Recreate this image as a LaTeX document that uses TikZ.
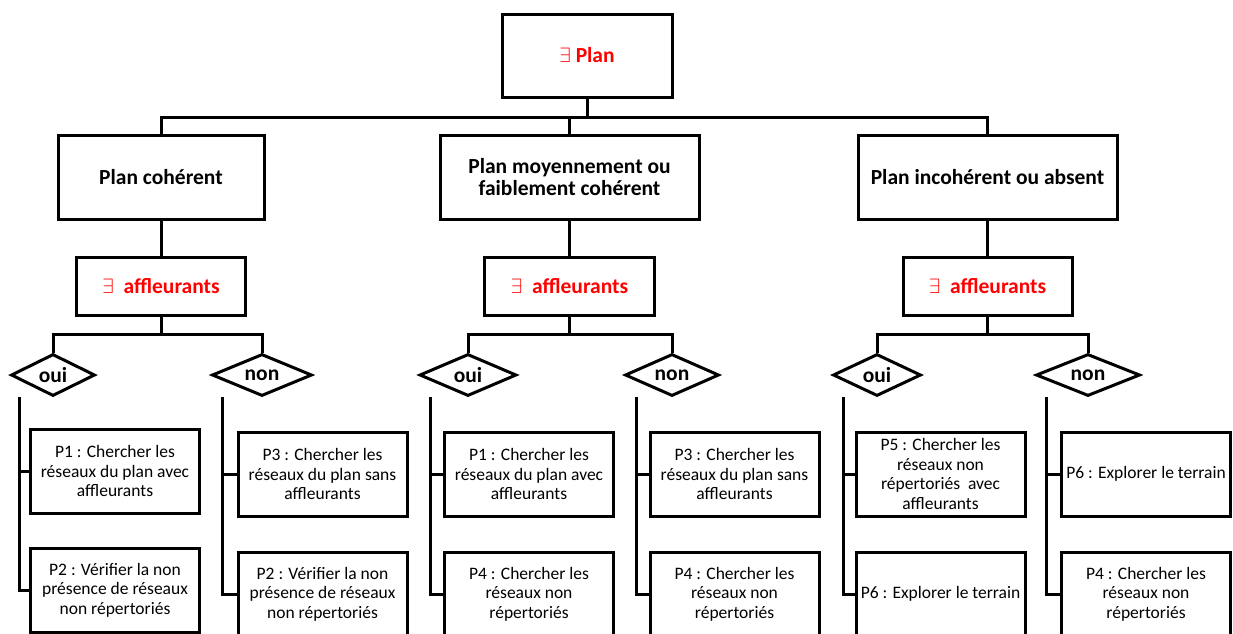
\documentclass[tikz,border=0pt]{standalone}
\usepackage{fontspec}
\setmainfont{Carlito}
\usetikzlibrary{shapes.geometric}

\begin{document}
\begin{tikzpicture}
                [x=1pt, y=-1pt,
                hsty/.style={rectangle, draw, line width=3pt, inner sep=0pt, align=center, font=\bfseries\fontsize{21.5}{22}\selectfont},
                rsty/.style={hsty, text=red},
                dsty/.style={diamond, draw, line width=3pt, inner sep=0pt, shape aspect=2.2, minimum height=42pt, font=\bfseries\fontsize{21.5}{22}\selectfont},
                psty/.style={rectangle, draw, line width=3pt, inner sep=0pt, minimum width=169pt, minimum height=84pt, align=center, font=\fontsize{17.5}{19.5}\selectfont},
                lsty/.style={line width=3pt}]
                \clip (0,0) rectangle (1233,633);
                % nodes
                \node[rsty, minimum width=170pt, minimum height=83pt] (plan) at (587,55.5) {$\exists$~Plan};
                \node[hsty, minimum width=206pt, minimum height=84pt] (c1) at (161,177)   {Plan cohérent};
                \node[hsty, minimum width=259pt, minimum height=84pt] (c2) at (569.5,177) {Plan moyennement ou\\faiblement cohérent};
                \node[hsty, minimum width=259pt, minimum height=84pt] (c3) at (987.5,177) {Plan incohérent ou absent};
                \node[rsty, minimum width=169pt, minimum height=58pt] (a1) at (161,286)   {$\exists$~~affleurants};
                \node[rsty, minimum width=170pt, minimum height=58pt] (a2) at (569.5,286) {$\exists$~~affleurants};
                \node[rsty, minimum width=169pt, minimum height=58pt] (a3) at (987.5,286) {$\exists$~~affleurants};
                \node[dsty, minimum width=84pt]  (o1) at (53,375)   {oui};
                \node[dsty, minimum width=100pt] (n1) at (262,375)  {non};
                \node[dsty, minimum width=97pt]  (o2) at (468,375)  {oui};
                \node[dsty, minimum width=94pt]  (n2) at (672,375)  {non};
                \node[dsty, minimum width=88pt]  (o3) at (877,375)  {oui};
                \node[dsty, minimum width=104pt] (n3) at (1088,375) {non};
                \node[psty] (p1a) at (115,471)   {P1 : Chercher les\\réseaux du plan avec\\affleurants};
                \node[psty] (p1b) at (115,590)   {P2 : Vérifier la non\\présence de réseaux\\non répertoriés};
                \node[psty] (p2a) at (322.5,474) {P3 : Chercher les\\réseaux du plan sans\\affleurants};
                \node[psty] (p2b) at (322.5,594) {P2 : Vérifier la non\\présence de réseaux\\non répertoriés};
                \node[psty] (p3a) at (529,474)   {P1 : Chercher les\\réseaux du plan avec\\affleurants};
                \node[psty] (p3b) at (529,594)   {P4 : Chercher les\\réseaux non\\répertoriés};
                \node[psty] (p4a) at (734.5,474) {P3 : Chercher les\\réseaux du plan sans\\affleurants};
                \node[psty] (p4b) at (734.5,594) {P4 : Chercher les\\réseaux non\\répertoriés};
                \node[psty] (p5a) at (940.5,474) {P5 : Chercher les\\réseaux non\\répertoriés\ \ avec\\affleurants};
                \node[psty] (p5b) at (940.5,594) {P6 : Explorer le terrain};
                \node[psty] (p6a) at (1146,474)  {P6 : Explorer le terrain};
                \node[psty] (p6b) at (1146,594)  {P4 : Chercher les\\réseaux non\\répertoriés};
                % lines
                \coordinate (b0) at (587,117);
                \draw[lsty] (plan) -- (b0);
                \draw[lsty] (c1.north) |- (b0) -| (c3.north);
                \draw[lsty] (c2.north) -- (c2.north |- b0);
                \draw[lsty] (c1) -- (a1);
                \draw[lsty] (c2) -- (a2);
                \draw[lsty] (c3) -- (a3);
                \draw[lsty] (a1.south) -- ++(0,18) coordinate (b1);
                \draw[lsty] (a2.south) -- ++(0,18) coordinate (b2);
                \draw[lsty] (a3.south) -- ++(0,18) coordinate (b3);
                \draw[lsty] (o1.north) |- (b1) -| (n1.north);
                \draw[lsty] (o2.north) |- (b2) -| (n2.north);
                \draw[lsty] (o3.north) |- (b3) -| (n3.north);
                \coordinate (v1) at (19,397);
                \coordinate (v2) at (222,397);
                \coordinate (v3) at (430,397);
                \coordinate (v4) at (636,397);
                \coordinate (v5) at (843,397);
                \coordinate (v6) at (1046,397);
                \draw[lsty] (v1) |- (p1b.west);
                \draw[lsty] (v1 |- p1a.west) -- (p1a.west);
                \draw[lsty] (v2) |- (p2b.west);
                \draw[lsty] (v2 |- p2a.west) -- (p2a.west);
                \draw[lsty] (v3) |- (p3b.west);
                \draw[lsty] (v3 |- p3a.west) -- (p3a.west);
                \draw[lsty] (v4) |- (p4b.west);
                \draw[lsty] (v4 |- p4a.west) -- (p4a.west);
                \draw[lsty] (v5) |- (p5b.west);
                \draw[lsty] (v5 |- p5a.west) -- (p5a.west);
                \draw[lsty] (v6) |- (p6b.west);
                \draw[lsty] (v6 |- p6a.west) -- (p6a.west);
            \end{tikzpicture}
\end{document}
